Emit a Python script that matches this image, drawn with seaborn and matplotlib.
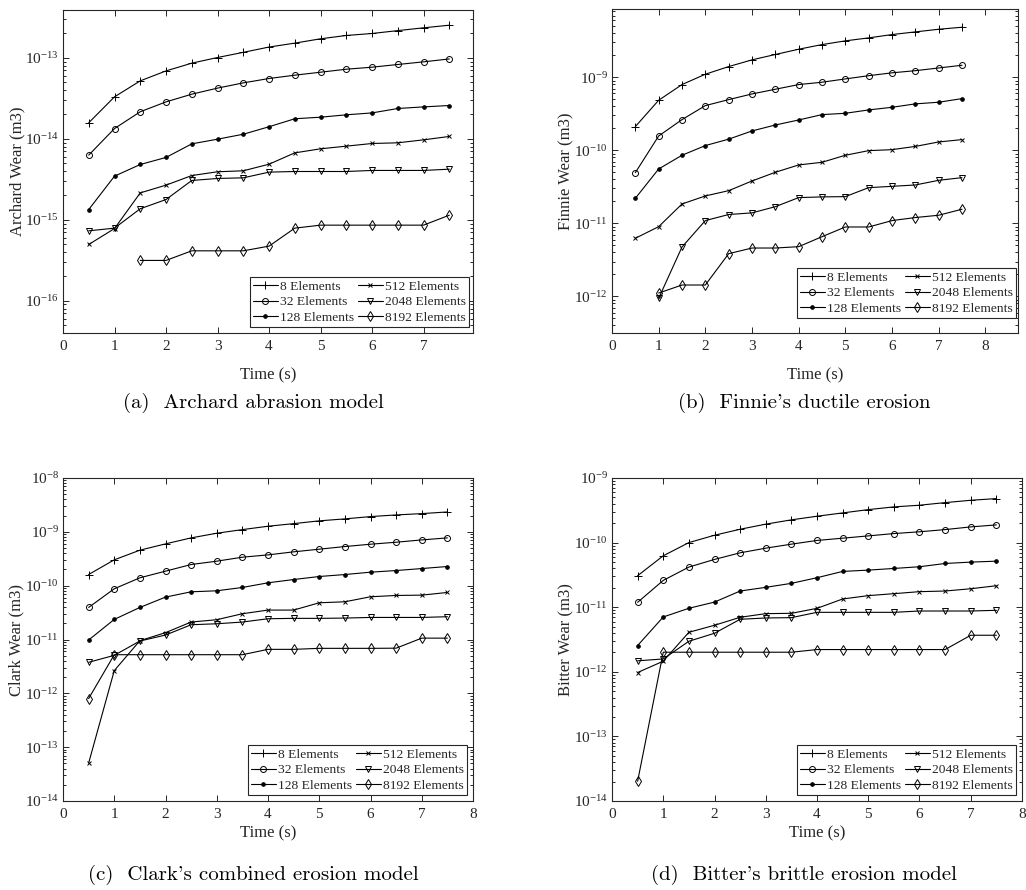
import numpy as np
import pandas as pd
import matplotlib
matplotlib.use("Agg")
import matplotlib.pyplot as plt
import seaborn as sns
from matplotlib.ticker import LogLocator, LogFormatterMathtext, NullFormatter, FixedLocator

nan = np.nan

# ---------------- data ----------------
TIME = [0.5, 1.0, 1.5, 2.0, 2.5, 3.0, 3.5, 4.0, 4.5, 5.0, 5.5, 6.0, 6.5, 7.0, 7.5]
SERIES_LABELS = ["8 Elements", "32 Elements", "128 Elements",
                 "512 Elements", "2048 Elements", "8192 Elements"]

# (a) Archard abrasion model
ARCHARD_8 = [1.58e-14, 3.3e-14, 5.2e-14, 6.9e-14, 8.6e-14, 1.01e-13, 1.17e-13, 1.36e-13,
             1.52e-13, 1.72e-13, 1.89e-13, 2.0e-13, 2.17e-13, 2.35e-13, 2.53e-13]
ARCHARD_32 = [6.3e-15, 1.34e-14, 2.16e-14, 2.86e-14, 3.56e-14, 4.23e-14, 4.91e-14, 5.56e-14,
              6.11e-14, 6.65e-14, 7.24e-14, 7.67e-14, 8.28e-14, 8.93e-14, 9.7e-14]
ARCHARD_128 = [1.34e-15, 3.46e-15, 4.82e-15, 5.89e-15, 8.67e-15, 9.9e-15, 1.14e-14, 1.41e-14,
               1.77e-14, 1.85e-14, 1.98e-14, 2.09e-14, 2.37e-14, 2.48e-14, 2.58e-14]
ARCHARD_512 = [4.96e-16, 7.8e-16, 2.15e-15, 2.68e-15, 3.52e-15, 3.92e-15, 4.03e-15, 4.86e-15,
               6.71e-15, 7.53e-15, 8.12e-15, 8.76e-15, 8.93e-15, 9.72e-15, 1.07e-14]
ARCHARD_2048 = [7.31e-16, 7.89e-16, 1.37e-15, 1.78e-15, 3.06e-15, 3.24e-15, 3.3e-15, 3.88e-15,
                3.95e-15, 3.95e-15, 3.95e-15, 4.07e-15, 4.07e-15, 4.07e-15, 4.22e-15]
ARCHARD_8192 = [nan, nan, 3.15e-16, 3.15e-16, 4.14e-16, 4.14e-16, 4.14e-16, 4.73e-16,
                7.89e-16, 8.59e-16, 8.59e-16, 8.59e-16, 8.59e-16, 8.59e-16, 1.14e-15]

# (b) Finnie's ductile erosion
FINNIE_8 = [2.11e-10, 4.84e-10, 7.94e-10, 1.10e-9, 1.40e-9, 1.73e-9, 2.05e-9, 2.42e-9,
            2.80e-9, 3.15e-9, 3.46e-9, 3.84e-9, 4.18e-9, 4.54e-9, 4.84e-9]
FINNIE_32 = [4.94e-11, 1.57e-10, 2.63e-10, 4.09e-10, 4.94e-10, 5.91e-10, 6.85e-10, 7.94e-10,
             8.55e-10, 9.49e-10, 1.05e-9, 1.15e-9, 1.23e-9, 1.34e-9, 1.46e-9]
FINNIE_128 = [2.20e-11, 5.55e-11, 8.55e-11, 1.16e-10, 1.42e-10, 1.84e-10, 2.22e-10, 2.60e-10,
              3.08e-10, 3.21e-10, 3.57e-10, 3.88e-10, 4.32e-10, 4.55e-10, 5.10e-10]
FINNIE_512 = [6.24e-12, 9.0e-12, 1.84e-11, 2.37e-11, 2.80e-11, 3.80e-11, 5.00e-11, 6.30e-11,
              6.85e-11, 8.55e-11, 9.89e-11, 1.02e-10, 1.13e-10, 1.30e-10, 1.40e-10]
FINNIE_2048 = [nan, 9.4e-13, 4.74e-12, 1.09e-11, 1.32e-11, 1.39e-11, 1.69e-11, 2.25e-11,
               2.30e-11, 2.32e-11, 3.08e-11, 3.21e-11, 3.35e-11, 3.88e-11, 4.22e-11]
FINNIE_8192 = [nan, 1.11e-12, 1.43e-12, 1.43e-12, 3.84e-12, 4.59e-12, 4.59e-12, 4.79e-12,
               6.56e-12, 8.91e-12, 8.91e-12, 1.09e-11, 1.20e-11, 1.29e-11, 1.56e-11]

# (c) Clark's combined erosion model
CLARK_8 = [1.61e-10, 3.02e-10, 4.56e-10, 5.97e-10, 7.72e-10, 9.42e-10, 1.10e-9, 1.27e-9,
           1.42e-9, 1.60e-9, 1.74e-9, 1.92e-9, 2.06e-9, 2.18e-9, 2.34e-9]
CLARK_32 = [3.94e-11, 8.75e-11, 1.40e-10, 1.86e-10, 2.47e-10, 2.85e-10, 3.38e-10, 3.73e-10,
            4.25e-10, 4.76e-10, 5.33e-10, 5.89e-10, 6.41e-10, 7.08e-10, 7.72e-10]
CLARK_128 = [9.77e-12, 2.36e-11, 3.94e-11, 6.13e-11, 7.69e-11, 8.03e-11, 9.26e-11, 1.13e-10,
             1.30e-10, 1.48e-10, 1.61e-10, 1.78e-10, 1.91e-10, 2.08e-10, 2.27e-10]
CLARK_512 = [5.05e-14, 2.64e-12, 9.5e-12, 1.34e-11, 2.11e-11, 2.33e-11, 3.01e-11, 3.52e-11,
             3.52e-11, 4.81e-11, 5.02e-11, 6.22e-11, 6.58e-11, 6.67e-11, 7.48e-11]
CLARK_2048 = [3.77e-12, 5.08e-12, 9.37e-12, 1.21e-11, 1.88e-11, 1.96e-11, 2.11e-11, 2.43e-11,
              2.47e-11, 2.47e-11, 2.50e-11, 2.57e-11, 2.57e-11, 2.57e-11, 2.65e-11]
CLARK_8192 = [7.98e-13, 5.22e-12, 5.22e-12, 5.22e-12, 5.22e-12, 5.22e-12, 5.22e-12, 6.56e-12,
              6.56e-12, 6.85e-12, 6.85e-12, 6.85e-12, 6.9e-12, 1.06e-11, 1.06e-11]

# (d) Bitter's brittle erosion model
BITTER_8 = [3.07e-11, 6.25e-11, 1.00e-10, 1.30e-10, 1.61e-10, 1.93e-10, 2.25e-10, 2.56e-10,
            2.88e-10, 3.24e-10, 3.57e-10, 3.79e-10, 4.16e-10, 4.52e-10, 4.80e-10]
BITTER_32 = [1.19e-11, 2.60e-11, 4.18e-11, 5.49e-11, 6.95e-11, 8.20e-11, 9.46e-11, 1.08e-10,
             1.17e-10, 1.27e-10, 1.38e-10, 1.47e-10, 1.59e-10, 1.75e-10, 1.88e-10]
BITTER_128 = [2.55e-12, 7.06e-12, 9.62e-12, 1.20e-11, 1.78e-11, 2.03e-11, 2.34e-11, 2.86e-11,
              3.58e-11, 3.75e-11, 3.98e-11, 4.23e-11, 4.75e-11, 4.99e-11, 5.16e-11]
BITTER_512 = [9.75e-13, 1.46e-12, 4.09e-12, 5.25e-12, 6.98e-12, 7.95e-12, 8.04e-12, 9.6e-12,
              1.34e-11, 1.51e-11, 1.62e-11, 1.74e-11, 1.78e-11, 1.93e-11, 2.15e-11]
BITTER_2048 = [1.48e-12, 1.58e-12, 2.97e-12, 3.95e-12, 6.50e-12, 6.81e-12, 6.89e-12, 8.33e-12,
               8.33e-12, 8.33e-12, 8.33e-12, 8.73e-12, 8.73e-12, 8.73e-12, 8.95e-12]
BITTER_8192 = [2.02e-14, 2.01e-12, 2.01e-12, 2.01e-12, 2.01e-12, 2.01e-12, 2.01e-12, 2.21e-12,
               2.21e-12, 2.21e-12, 2.21e-12, 2.21e-12, 2.21e-12, 3.68e-12, 3.68e-12]

Y_LABELS = ["Archard Wear (m3)", "Finnie Wear (m3)", "Clark Wear (m3)", "Bitter Wear (m3)"]
CAPTIONS = ["(a)  Archard abrasion model", "(b)  Finnie's ductile erosion",
            "(c)  Clark's combined erosion model", "(d)  Bitter's brittle erosion model"]
X_LABEL = "Time (s)"

# ---------------- style ----------------
sns.set_theme(style="ticks")
plt.rcParams["font.family"] = ["Liberation Serif", "DejaVu Serif"]
plt.rcParams["mathtext.fontset"] = "custom"
plt.rcParams["mathtext.rm"] = "Liberation Serif"
plt.rcParams["mathtext.it"] = "Liberation Serif:italic"
plt.rcParams["mathtext.bf"] = "Liberation Serif:bold"

INK = "#262626"
W, H = 1026, 890
fig = plt.figure(figsize=(W / 100, H / 100), dpi=100)


def px_rect(l, t, r, b):
    return [l / W, 1 - b / H, (r - l) / W, (b - t) / H]


MARKER_STYLES = [
    dict(marker="+", markersize=5.5, markerfacecolor="none"),
    dict(marker="o", markersize=4.3, markerfacecolor="none"),
    dict(marker="o", markersize=2.6, markerfacecolor="black"),
    dict(marker="x", markersize=3.2, markerfacecolor="none"),
    dict(marker="v", markersize=4.5, markerfacecolor="none"),
    dict(marker="d", markersize=5.0, markerfacecolor="none"),
]

panels = [
    dict(rect=(63, 10, 473, 333), series=[ARCHARD_8, ARCHARD_32, ARCHARD_128, ARCHARD_512, ARCHARD_2048, ARCHARD_8192],
         ylim=(4e-17, 3.9e-13), xlim=(0, 7.96), xticks=range(0, 8), leg=(469, 327),
         xlab_y=375, ylab_x=17, cap=(253, 403)),
    dict(rect=(612, 9, 1018, 333), series=[FINNIE_8, FINNIE_32, FINNIE_128, FINNIE_512, FINNIE_2048, FINNIE_8192],
         ylim=(3.15e-13, 8.6e-9), xlim=(0, 8.7), xticks=range(0, 9), leg=(1016, 318),
         xlab_y=375, ylab_x=566, cap=(804, 403)),
    dict(rect=(63, 478, 473, 801), series=[CLARK_8, CLARK_32, CLARK_128, CLARK_512, CLARK_2048, CLARK_8192],
         ylim=(1e-14, 1e-8), xlim=(0, 8), xticks=range(0, 9), leg=(467, 795),
         xlab_y=833, ylab_x=16, cap=(253, 875)),
    dict(rect=(612, 478, 1022, 801), series=[BITTER_8, BITTER_32, BITTER_128, BITTER_512, BITTER_2048, BITTER_8192],
         ylim=(1e-14, 1e-9), xlim=(0, 8), xticks=range(0, 9), leg=(1016, 795),
         xlab_y=833, ylab_x=566, cap=(804, 875)),
]

for i, p in enumerate(panels):
    l, t, r, b = p["rect"]
    ax = fig.add_axes(px_rect(l, t, r, b))
    handles = []
    for label, vals, mst in zip(SERIES_LABELS, p["series"], MARKER_STYLES):
        df = pd.DataFrame({"Time": TIME, "Wear": vals}).dropna()
        n_before = len(ax.lines)
        sns.lineplot(data=df, x="Time", y="Wear", ax=ax, estimator=None, sort=False,
                     color="black", linewidth=0.8, markeredgecolor="black",
                     markeredgewidth=0.7, label=label, **mst)
        handles.append(ax.lines[n_before])
    ax.set_yscale("log")
    ax.set_xlim(*p["xlim"])
    ax.set_ylim(*p["ylim"])
    ax.set_xticks(list(p["xticks"]))
    lo, hi = p["ylim"]
    decades = [10.0 ** k for k in range(int(np.ceil(np.log10(lo) - 1e-9)),
                                         int(np.floor(np.log10(hi) + 1e-9)) + 1)]
    ax.yaxis.set_major_locator(FixedLocator(decades))
    ax.yaxis.set_minor_locator(LogLocator(base=10, subs=np.arange(2, 10), numticks=100))
    ax.yaxis.set_major_formatter(LogFormatterMathtext())
    ax.yaxis.set_minor_formatter(NullFormatter())

    for s in ax.spines.values():
        s.set_color(INK)
        s.set_linewidth(0.8)
    ax.tick_params(which="both", direction="in", top=True, right=True,
                   color=INK, labelcolor=INK, width=0.7)
    ax.tick_params(which="major", length=4)
    ax.tick_params(which="minor", length=2)
    ax.tick_params(axis="x", which="major", labelsize=11, pad=5)
    ax.tick_params(axis="y", which="major", labelsize=11, pad=3)

    ax.set_xlabel(X_LABEL, fontsize=12, color=INK, va="center", ha="center")
    ax.xaxis.set_label_coords(0.5, (b - p["xlab_y"]) / (b - t))
    ax.set_ylabel(Y_LABELS[i], fontsize=12, color=INK, va="center", ha="center")
    ax.yaxis.set_label_coords((p["ylab_x"] - l) / (r - l), 0.5)

    lx, ly = p["leg"]
    leg = ax.legend(handles=handles, labels=SERIES_LABELS, ncol=2, loc="lower right",
                    bbox_to_anchor=(lx / W, 1 - ly / H), bbox_transform=fig.transFigure,
                    borderaxespad=0, fontsize=9.7, frameon=True, fancybox=False,
                    handlelength=1.8, handletextpad=0.15, columnspacing=0.35,
                    borderpad=0.25, labelspacing=0.22, numpoints=1)
    frame = leg.get_frame()
    frame.set_edgecolor(INK)
    frame.set_linewidth(0.8)
    frame.set_facecolor("white")
    frame.set_alpha(1)

    cx, cy = p["cap"]
    fig.text(cx / W, 1 - cy / H, CAPTIONS[i], ha="center", va="center",
             fontsize=15, family="cmr10", color="black")

fig.savefig("out.png", dpi=100)
